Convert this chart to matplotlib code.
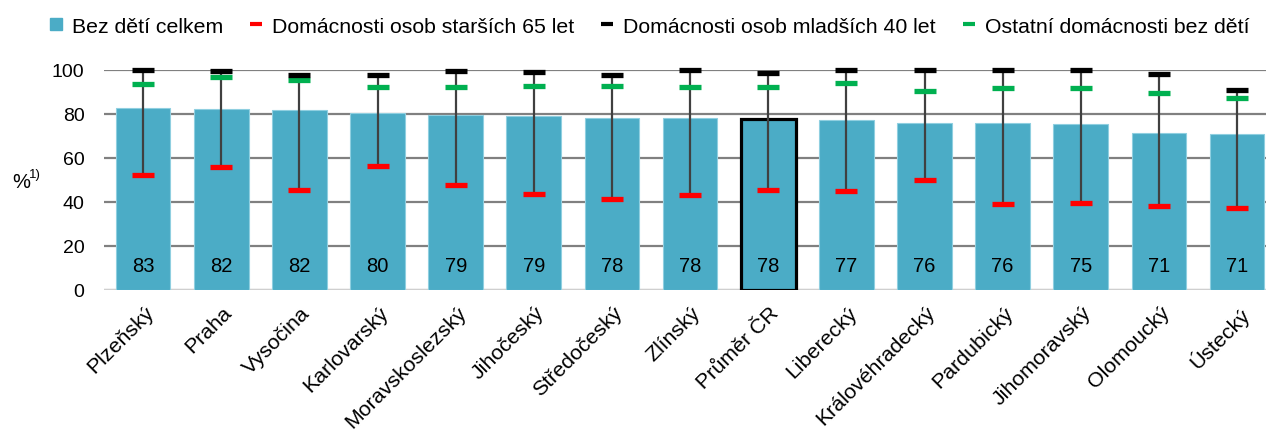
"""Households without children by region, bar chart with marker ranges."""

import matplotlib
matplotlib.use("Agg")
import matplotlib.pyplot as plt
from matplotlib.lines import Line2D
from matplotlib.transforms import ScaledTranslation

plt.rcParams["font.family"] = ["Liberation Sans", "DejaVu Sans"]

regions = ["Plzeňský", "Praha", "Vysočina", "Karlovarský", "Moravskoslezský",
           "Jihočeský", "Středočeský", "Zlínský", "Průměr ČR", "Liberecký",
           "Královéhradecký", "Pardubický", "Jihomoravský", "Olomoucký", "Ústecký"]
total = [82.7, 82.0, 81.7, 80.4, 79.4, 79.0, 78.1, 77.9, 77.6, 77.1,
         75.7, 75.6, 75.4, 71.4, 70.6]
over65 = [52.0, 55.6, 45.2, 56.1, 47.5, 43.5, 41.5, 42.9, 45.2, 44.7,
          49.7, 38.8, 39.3, 38.0, 37.0]
under40 = [100.0, 99.3, 97.5, 97.5, 99.3, 98.8, 97.5, 100.0, 98.4, 100.0,
           100.0, 100.0, 100.0, 97.9, 90.6]
other = [93.4, 96.5, 95.2, 92.0, 92.0, 92.5, 92.7, 92.0, 92.0, 93.8,
         90.2, 91.5, 91.5, 89.3, 87.0]
highlight = "Průměr ČR"

BAR = "#4BACC6"
RED = "#FF0000"
GREEN = "#00B050"

fig = plt.figure(figsize=(12.66, 4.31), dpi=100)
ax = fig.add_axes([0.0822, 0.325, 0.9178, 0.511])

x = list(range(len(regions)))
bars = ax.bar(x, total, width=0.7, color=BAR, edgecolor="#8fcfe0",
              linewidth=0.8, zorder=2)
for b, name in zip(bars, regions):
    if name == highlight:
        b.set_edgecolor("black")
        b.set_linewidth(2.3)
        b.set_zorder(3)

# whiskers from lowest to highest marker
lows = [min(a, b, c) for a, b, c in zip(over65, under40, other)]
highs = [max(a, b, c) for a, b, c in zip(over65, under40, other)]
ax.vlines(x, lows, highs, color="#404040", linewidth=1.6, zorder=4)

mk = dict(marker="_", markersize=16, markeredgewidth=3.8, linestyle="none",
          zorder=5, clip_on=False)
ax.plot(x, over65, color=RED, **mk)
ax.plot(x, other, color=GREEN, **mk)
ax.plot(x, under40, color="black", **mk)

for xi, v in zip(x, total):
    ax.text(xi, 11, f"{v:.0f}", ha="center", va="center", fontsize=14.5,
            zorder=6)

ax.set_ylim(0, 100)
ax.set_xlim(-0.5, 14.37)
ax.set_yticks(range(0, 101, 20))
ax.yaxis.grid(True, color="#808080", linewidth=1.6, zorder=0)
ax.set_axisbelow(True)
ax.axhline(0, color="#D9D9D9", linewidth=2, zorder=1)
for s in ax.spines.values():
    s.set_visible(False)
ax.tick_params(axis="y", length=0, pad=14, labelsize=14)
ax.tick_params(axis="x", length=0, pad=9)
ax.set_xticks(x)
ax.set_xticklabels(regions, rotation=45, ha="right", va="top",
                   rotation_mode="anchor", fontsize=15.4)
shift = ScaledTranslation(1 / 100, 0, fig.dpi_scale_trans)
for lbl in ax.get_xticklabels():
    lbl.set_transform(lbl.get_transform() + shift)

fig.text(0.0095, 0.577, "%", fontsize=14.5, va="center")
fig.text(0.0225, 0.593, "1)", fontsize=9.5, va="center")

handles = [
    Line2D([], [], marker="s", color=BAR, linestyle="none", markersize=8),
    Line2D([], [], marker="_", color=RED, linestyle="none", markersize=8.5,
           markeredgewidth=3),
    Line2D([], [], marker="_", color="black", linestyle="none", markersize=8.5,
           markeredgewidth=3),
    Line2D([], [], marker="_", color=GREEN, linestyle="none", markersize=8.5,
           markeredgewidth=3),
]
labels = ["Bez dětí celkem", "Domácnosti osob starších 65 let",
          "Domácnosti osob mladších 40 let", "Ostatní domácnosti bez dětí"]
fig.legend(handles, labels, loc="center", bbox_to_anchor=(0.513, 0.937),
           ncol=4, frameon=False, fontsize=15.3, handlelength=0.6,
           handletextpad=0.45, columnspacing=1.25)

fig.savefig("out.png", dpi=100)
plt.close(fig)
